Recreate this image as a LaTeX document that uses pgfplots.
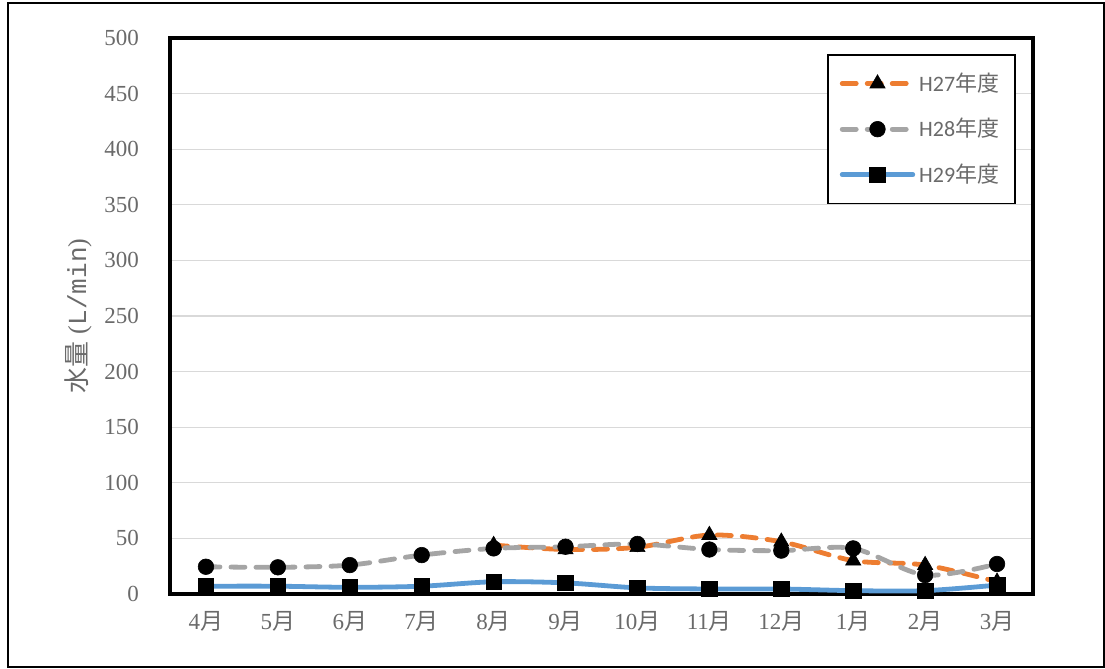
\documentclass[border=0pt]{standalone}
\usepackage{fontspec}
\setmainfont{Liberation Serif}
\newfontfamily\jpfont{Noto Sans CJK JP}
\newfontfamily\legfont{Carlito}
\newfontfamily\monofont{Liberation Mono}
\usepackage{pgfplots}
\pgfplotsset{compat=1.18}
\definecolor{cOr}{HTML}{ED7D31}
\definecolor{cGr}{HTML}{A5A5A5}
\definecolor{cBl}{HTML}{5B9BD5}
\definecolor{cTx}{HTML}{6A6A6A}
\definecolor{cGrid}{HTML}{D9D9D9}
\begin{document}
\begin{tikzpicture}
\useasboundingbox (0,0) rectangle (552.5pt,334.5pt);
\draw[line width=0.8pt] (4pt,1pt) rectangle (552pt,333pt);
\begin{axis}[
  at={(85pt,37.5pt)}, anchor=south west,
  scale only axis, width=431.5pt, height=278pt,
  xmin=-0.5, xmax=11.5, ymin=0, ymax=500,
  xtick={0,...,11},
  xticklabels={4{\jpfont 月},5{\jpfont 月},6{\jpfont 月},7{\jpfont 月},8{\jpfont 月},9{\jpfont 月},10{\jpfont 月},11{\jpfont 月},12{\jpfont 月},1{\jpfont 月},2{\jpfont 月},3{\jpfont 月}},
  ytick={0,50,...,500},
  /pgf/number format/assume math mode=true,
  major tick length=0pt,
  ymajorgrids, grid style={cGrid, line width=0.6pt},
  axis line style={line width=2pt},
  tick label style={font=\fontsize{11.5}{13}\selectfont, text=cTx},
  yticklabel style={xshift=-12pt},
  xticklabel style={yshift=-5pt},
  every axis y label/.style={at={(axis description cs:-0.1066,0.5)}, rotate=90, anchor=center, font=\fontsize{13}{15}\selectfont, text=cTx},
  ylabel={{\jpfont 水量}\;({\monofont L/min})},
  legend style={at={(rel axis cs:0.9803,0.9712)}, anchor=north east, draw=black, line width=0.8pt,
    font=\legfont\fontsize{11}{13}\selectfont, text=cTx, row sep=8pt, inner xsep=6pt, inner ysep=7pt,
    cells={anchor=west}},
  legend image code/.code={\draw[mark repeat=2,mark phase=2,#1] plot coordinates {(0cm,0cm) (0.62cm,0cm) (1.24cm,0cm)};},
]
\addplot[cOr, line width=2.4pt, dash pattern=on 7pt off 5.5pt, line cap=round, smooth, tension=0.5,
  mark=triangle*, mark size=4.4pt, mark options={black, fill=black, solid, line width=0.3pt}]
  coordinates {(4,44) (5,40) (6,42) (7,53) (8,47) (9,30) (10,26) (11,11)};
\addlegendentry{H27{\jpfont 年度}}
\addplot[cGr, line width=2.4pt, dash pattern=on 7pt off 5.5pt, line cap=round, smooth, tension=0.5,
  mark=*, mark size=3.9pt, mark options={black, fill=black, solid, line width=0.3pt}]
  coordinates {(0,24.5) (1,24) (2,26) (3,35) (4,41) (5,42.5) (6,45) (7,40) (8,39) (9,41) (10,17) (11,27)};
\addlegendentry{H28{\jpfont 年度}}
\addplot[cBl, line width=2.4pt, line cap=round, smooth, tension=0.5,
  mark=square*, mark size=3.9pt, mark options={black, fill=black, solid, line width=0.3pt}]
  coordinates {(0,7) (1,7) (2,6) (3,7) (4,11) (5,10) (6,5.5) (7,4.5) (8,4.5) (9,3) (10,3) (11,8)};
\addlegendentry{H29{\jpfont 年度}}
\end{axis}
\end{tikzpicture}
\end{document}
